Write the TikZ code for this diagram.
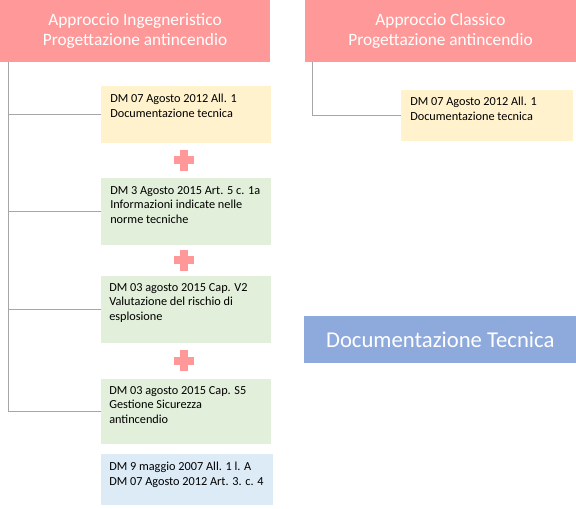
\documentclass[tikz,border=0pt]{standalone}
\usepackage{fontspec}
\setmainfont{Carlito}
\definecolor{headpink}{HTML}{FF9999}
\definecolor{docyellow}{HTML}{FFF2CC}
\definecolor{docgreen}{HTML}{E2EFDA}
\definecolor{docblue}{HTML}{DDEBF7}
\definecolor{bigblue}{HTML}{8EA9DB}
\definecolor{linkgray}{HTML}{A6A6A6}
\tikzset{
  head/.style={fill=headpink, text=white, anchor=north west, inner sep=0, outer sep=0,
    align=center, font=\fontsize{13}{15}\selectfont, minimum height=46.5pt},
  docbox/.style={anchor=north west, inner sep=0, outer sep=0, minimum width=127.5pt},
  doctext/.style={anchor=north west, inner sep=0, align=left, font=\fontsize{9.2}{10.9}\selectfont},
  link/.style={draw=linkgray, line width=0.75pt},
  pics/plus/.style={code={
    \fill[headpink] (-10,-4) rectangle (10,4);
    \fill[headpink] (-4,-10.5) rectangle (4,10.5);
  }}
}
\begin{document}
\begin{tikzpicture}[x=0.75pt, y=-0.75pt]
      \useasboundingbox (0,0) rectangle (576,509);
      % headers
      \node[head, minimum width=202.5pt] (ing) at (0,0) {Approccio Ingegneristico\\Progettazione antincendio};
      \node[head, minimum width=203.25pt] (cla) at (305,0) {Approccio Classico\\Progettazione antincendio};
      % document boxes
      \node[docbox, fill=docyellow, minimum height=42.75pt] (d1) at (101,86) {};
      \node[docbox, fill=docgreen, minimum height=50.25pt] (d2) at (101,178) {};
      \node[docbox, fill=docgreen, minimum height=50.25pt] (d3) at (101,276) {};
      \node[docbox, fill=docgreen, minimum height=48.75pt] (d4) at (101,379) {};
      \node[docbox, fill=docblue, minimum width=129pt, minimum height=38.25pt] (d5) at (101,454) {};
      \node[docbox, fill=docyellow, minimum width=129pt, minimum height=38.25pt] (dr) at (401,90) {};
      \node[doctext] (t1) at ([shift={(9,8)}]d1.north west) {DM 07 Agosto 2012 All. 1\\Documentazione tecnica};
      \node[doctext] (t2) at ([shift={(9,8)}]d2.north west) {DM 3 Agosto 2015 Art. 5 c. 1a\\Informazioni indicate nelle\\norme tecniche};
      \node[doctext] (t3) at ([shift={(8,7)}]d3.north west) {DM 03 agosto 2015 Cap. V2\\Valutazione del rischio di\\esplosione};
      \node[doctext] (t4) at ([shift={(8,7)}]d4.north west) {DM 03 agosto 2015 Cap. S5\\Gestione Sicurezza\\antincendio};
      \node[doctext] (t5) at ([shift={(8,8)}]d5.north west) {DM 9 maggio 2007 All. 1 l. A\\DM 07 Agosto 2012 Art. 3. c. 4};
      \node[doctext] (tr) at ([shift={(9,7)}]dr.north west) {DM 07 Agosto 2012 All. 1\\Documentazione tecnica};
      \node[fill=bigblue, text=white, anchor=north west, inner sep=0, minimum width=204pt, minimum height=35.25pt,
        font=\fontsize{17}{20}\selectfont] (doc) at (304,316) {Documentazione Tecnica};
      % plus signs
      \pic at (184,160.5) {plus};
      \pic at (184,260.5) {plus};
      \pic at (184,361) {plus};
      % links
      \coordinate (trunk) at (8,62);
      \coordinate (trunkR) at (312,62);
      \begin{scope}[link]
        \draw (trunk) |- (d1.west);
        \draw (trunk) |- (d2.west);
        \draw (trunk) |- (d3.west);
        \draw (trunk) |- (d4.west);
        \draw (trunkR) |- (dr.west);
      \end{scope}
    \end{tikzpicture}
\end{document}
